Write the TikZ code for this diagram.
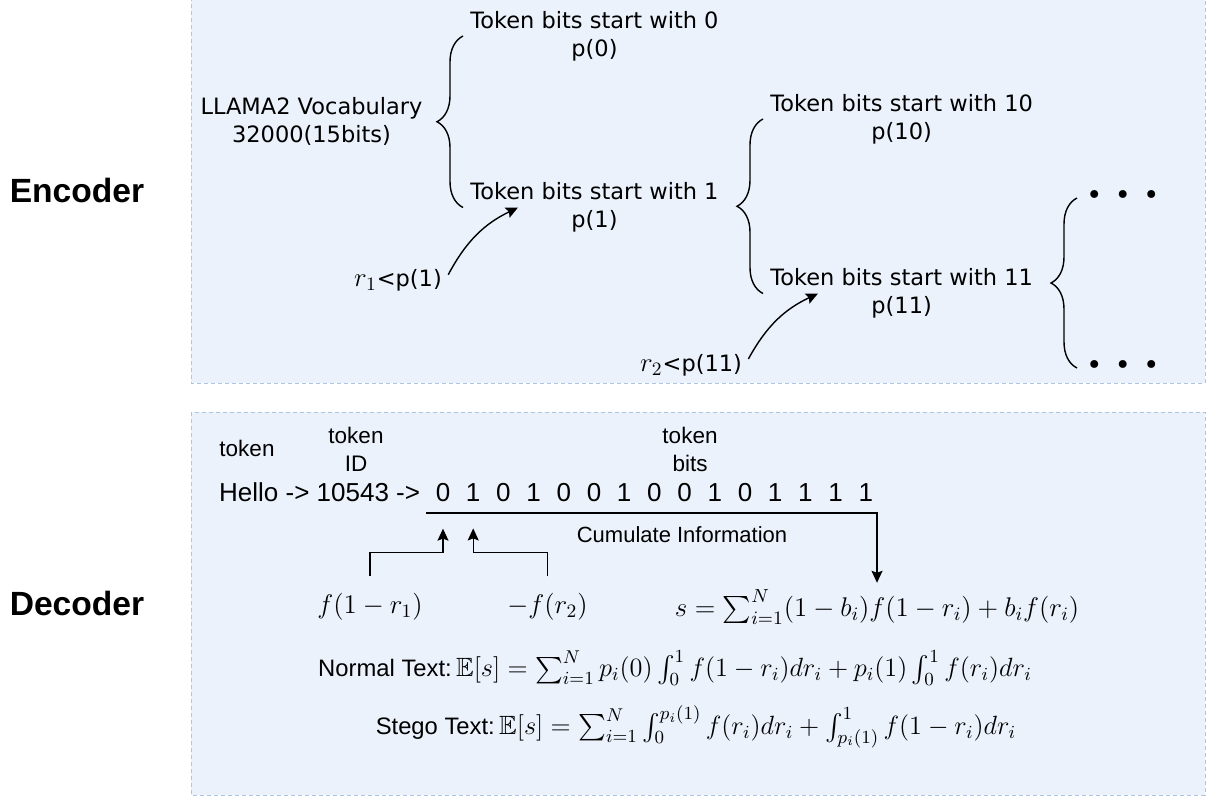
\RequirePackage{fix-cm}
\documentclass[tikz,border=0pt]{standalone}
\usepackage{amsmath}
\usepackage{amssymb}
\usepackage{fontspec}
\newfontfamily\vfont{DejaVu Sans}
\newfontfamily\afont{Liberation Sans}
\usetikzlibrary{arrows.meta,positioning,decorations.pathreplacing}
\definecolor{panelfill}{RGB}{235,242,252}
\definecolor{panelline}{RGB}{172,196,230}
\tikzset{
    panel/.style={draw=panelline,fill=panelfill,line width=0.5pt,dash pattern=on 2pt off 1.5pt},
    vtext/.style={font={\vfont\fontsize{11.25}{14}\selectfont},align=center,inner sep=3.5pt},
    atext/.style={font={\afont\fontsize{11.25}{14}\selectfont},align=center},
    btext/.style={font={\afont\fontsize{13}{15}\selectfont},inner sep=3pt},
    mtext/.style={font={\fontsize{13.5}{16}\selectfont}},
    title/.style={font={\afont\bfseries\fontsize{16.8}{20}\selectfont}},
    dots/.style={font={\vfont\fontsize{13.5}{14}\selectfont},inner sep=4.5pt},
    arr/.style={-{Stealth[length=6pt,width=5.5pt,inset=1pt]},line width=0.7pt},
    curly/.style={decorate,decoration={brace,amplitude=13pt},line width=0.7pt}
}
\newcommand{\lbl}[1]{{\afont\fontsize{11.9}{15}\selectfont #1}}
\newcommand{\rvar}[1]{{\fontsize{13.5}{14}\selectfont$#1$}}

\begin{document}
\begin{tikzpicture}[x=0.5pt,y=-0.5pt]
    \useasboundingbox (0,0) rectangle (1210,800);
    \clip (0,0) rectangle (1210,800);

    \draw[panel] (191,-10) rectangle (1205,383);
    \draw[panel] (191,412) rectangle (1205,795);

    \node[title] (encoder) at (77,190) {Encoder};
    \node[title] (decoder) at (77,603) {Decoder};

    \node[vtext] (vocab) at (311.5,121) {LLAMA2 Vocabulary\\32000(15bits)};
    \node[vtext,anchor=west] (tok0) at (463,36) {Token bits start with 0\\p(0)};
    \node[vtext,anchor=west] (tok1) at (463,207.5) {Token bits start with 1\\p(1)};
    \node[vtext,anchor=west] (tok10) at (763,119) {Token bits start with 10\\p(10)};
    \node[vtext,anchor=west] (tok11) at (763,293.5) {Token bits start with 11\\p(11)};
    \node[dots,anchor=west] (dotsA) at (1077,198) {•\hspace{6.3pt}•\hspace{6.3pt}•};
    \node[dots,anchor=west] (dotsB) at (1077,368) {•\hspace{6.3pt}•\hspace{6.3pt}•};

    \draw[curly] (tok1.west) -- (tok0.west);
    \draw[curly] (tok11.west) -- (tok10.west);
    \draw[curly] (dotsB.west) -- (dotsA.west);

    \node[vtext,inner sep=3pt] (r1) at (398,280) {\rvar{r_1}<p(1)};
    \node[vtext,inner sep=3pt] (r2) at (691,365) {\rvar{r_2}<p(11)};
    \coordinate (in1) at ([xshift=27.5pt]tok1.west);
    \coordinate (in2) at ([xshift=27.5pt]tok11.west);
    \draw[arr] (r1.6) to[bend left=18] (in1);
    \draw[arr] (r2.6) to[bend left=18] (in2);

    \node[atext] (tok) at (247,448) {token};
    \node[atext] (tokid) at (356,449) {token\\ID};
    \node[atext] (tokbits) at (690,449) {token\\bits};
    \node[btext,anchor=base east] (hello) at (426.5,501) {Hello -> 10543 ->};
    \foreach \b [count=\i] in {0,1,0,1,0,0,1,0,0,1,0,1,1,1,1}
        \node[btext,anchor=base] (bit\i) at ({443+(\i-1)*30.2},501) {\b};

    \node[atext,font={\afont\fontsize{11}{14}\selectfont}] (cumul) at (682,535) {Cumulate Information};

    \node[mtext] (f1) at (370,607) {$f(1-r_1)$};
    \node[mtext] (f2) at (547.5,607) {$-f(r_2)$};
    \node[mtext] (sform) at (877,607) {$s=\sum_{i=1}^{N}(1-b_i)f(1-r_i)+b_if(r_i)$};

    \coordinate (cumA) at (426,513);
    \coordinate (up1) at ([yshift=-10.5pt]bit1.south);
    \coordinate (up2) at ([yshift=-10.5pt]bit2.south);
    \draw[arr] (cumA) -| (sform.north);
    \draw[arr] ([yshift=5pt]f1.north) -- ++(0,12pt) -| (up1);
    \draw[arr] ([yshift=5pt]f2.north) -- ++(0,12pt) -| (up2);

    \node[mtext,font={\fontsize{13.2}{16}\selectfont}] (normal) at (675,668) {\lbl{Normal Text:}\,$\mathbb{E}[s]=\sum_{i=1}^{N}p_i(0)\int_0^1f(1-r_i)dr_i+p_i(1)\int_0^1f(r_i)dr_i$};
    \node[mtext,font={\fontsize{13.2}{16}\selectfont}] (stego) at (696,727) {\lbl{Stego Text:}\,$\mathbb{E}[s]=\sum_{i=1}^{N}\int_0^{p_i(1)}f(r_i)dr_i+\int_{p_i(1)}^1f(1-r_i)dr_i$};

\end{tikzpicture}
\end{document}
